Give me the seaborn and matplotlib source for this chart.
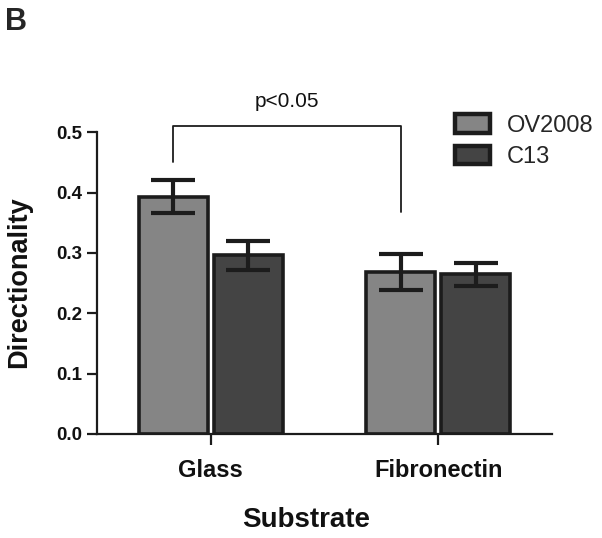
import matplotlib
matplotlib.use("Agg")
import matplotlib.pyplot as plt
import seaborn as sns
import pandas as pd
import numpy as np

substrates = ["Glass", "Fibronectin"]
cells = ["OV2008", "C13"]
ov2008_mean = [0.393, 0.268]
ov2008_sem = [0.027, 0.030]
c13_mean = [0.296, 0.265]
c13_sem = [0.024, 0.019]
yticks = [0.0, 0.1, 0.2, 0.3, 0.4, 0.5]

df = pd.DataFrame({
    "Substrate": substrates * 2,
    "Cell": [cells[0]] * 2 + [cells[1]] * 2,
    "Directionality": ov2008_mean + c13_mean,
    "sem": ov2008_sem + c13_sem,
})

sns.set_style("ticks")
plt.rcParams["font.family"] = ["Liberation Sans", "DejaVu Sans"]

fig = plt.figure(figsize=(6.02, 5.38), dpi=100)
ax = fig.add_axes([97 / 602, 1 - 434 / 538, 455 / 602, 338 / 538])

edge = "#1c1c1c"
sns.barplot(data=df, x="Substrate", y="Directionality", hue="Cell",
            order=substrates, hue_order=cells,
            palette={"OV2008": "#858585", "C13": "#444444"},
            edgecolor=edge, linewidth=2.6, width=0.66, gap=0.08,
            errorbar=None, ax=ax, zorder=2)

# error bars at bar centres from the library's bar patches
bars = [p for p in ax.patches if p.get_height() > 0]
centers = {}
for p in bars:
    cx = p.get_x() + p.get_width() / 2
    h = p.get_height()
    row = df.iloc[(df["Directionality"] - h).abs().argmin()]
    centers[(row["Substrate"], row["Cell"])] = cx
    ax.errorbar(cx, h, yerr=row["sem"], fmt="none", ecolor=edge,
                elinewidth=3.0, capsize=16, capthick=3.0, zorder=3)

# significance bracket
x1 = centers[("Glass", "OV2008")]
x2 = centers[("Fibronectin", "OV2008")]
ax.plot([x1, x1, x2, x2], [0.45, 0.511, 0.511, 0.367], color=edge,
        lw=1.3, clip_on=False, zorder=3)
ax.text((x1 + x2) / 2, 0.535, "p<0.05", ha="center", va="bottom",
        fontsize=15, color="#111111")

ax.set_xlim(-0.5, 1.5)
ax.set_ylim(0, 0.56)
ax.set_yticks(yticks)
ax.set_yticklabels([f"{v:.1f}" for v in yticks], fontweight="bold", fontsize=13.5)
ax.set_xticks([0, 1])
ax.set_xticklabels(substrates, fontweight="bold", fontsize=17)
sns.despine(ax=ax)
ax.spines["left"].set_bounds(0, 0.5)
for s in ["left", "bottom"]:
    ax.spines[s].set_linewidth(1.6)
    ax.spines[s].set_color(edge)
ax.tick_params(axis="y", length=7, width=1.6, pad=3.5, colors=edge, labelcolor="#111111")
ax.tick_params(axis="x", length=8, width=1.6, pad=10, colors=edge, labelcolor="#111111")

ax.set_ylabel("Directionality", fontsize=19.5, fontweight="bold", color="#111111")
ax.yaxis.set_label_coords(-0.142, 0.45)
ax.set_xlabel("Substrate", fontsize=20, fontweight="bold", color="#111111")
ax.xaxis.set_label_coords(0.459, -0.215)
ax.grid(False)

leg = ax.legend(loc="upper left", bbox_to_anchor=(455 / 602, 1 - 114 / 538),
                bbox_transform=fig.transFigure, frameon=False, fontsize=17,
                handlelength=1.5, handleheight=0.85, labelspacing=0.38,
                handletextpad=0.7, borderpad=0, borderaxespad=0, title=None)
for h in leg.legend_handles:
    h.set_linewidth(3.2)
    h.set_edgecolor(edge)

fig.text(5 / 602, 1 - 30 / 538, "B", fontsize=22, fontweight="bold",
         ha="left", va="baseline")

fig.savefig("out.png", dpi=100)
